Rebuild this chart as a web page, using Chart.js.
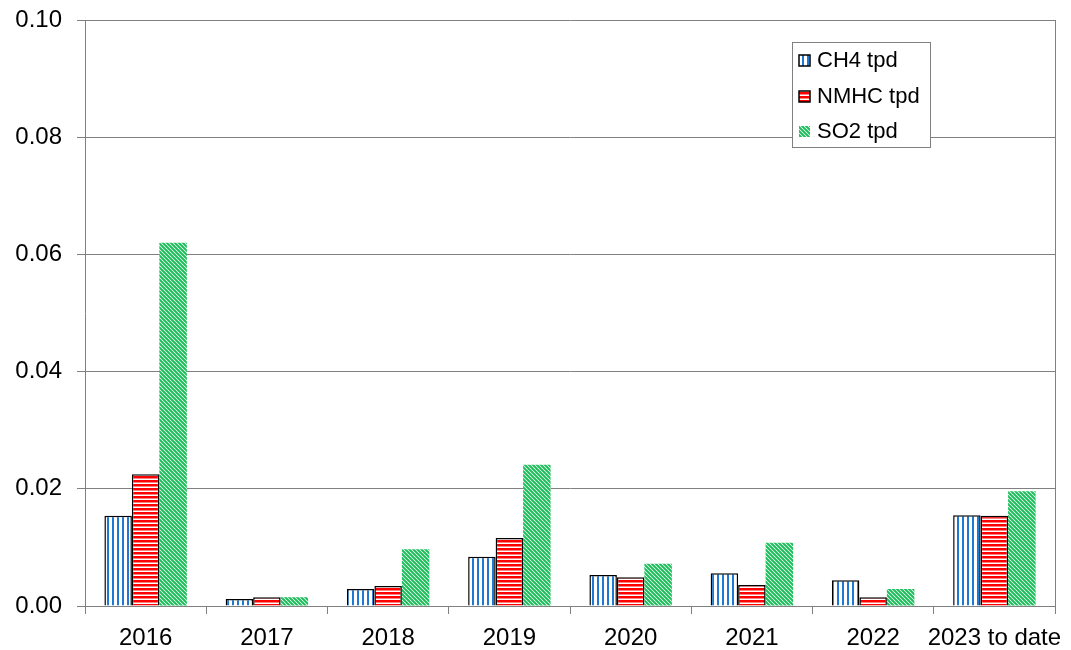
<!DOCTYPE html>
<html>
<head>
<meta charset="utf-8">
<script src="https://cdn.jsdelivr.net/npm/chart.js@4.4.0/dist/chart.umd.min.js"></script>
<style>
  html, body { margin: 0; padding: 0; background: #fff; }
</style>
</head>
<body>
<canvas id="chart" width="1071" height="650"></canvas>
<script>
// data
const years = ['2016', '2017', '2018', '2019', '2020', '2021', '2022', '2023 to date'];
const ch4Tpd  = [0.0154, 0.0012, 0.0029, 0.0084, 0.0053, 0.0056, 0.0044, 0.0155];
const nmhcTpd = [0.0225, 0.0015, 0.0034, 0.0116, 0.0049, 0.0036, 0.0015, 0.0154];
const so2Tpd  = [0.0620, 0.0015, 0.0097, 0.0241, 0.0072, 0.0108, 0.0029, 0.0196];
const yTicks  = [0, 0.02, 0.04, 0.06, 0.08, 0.10];

const FONT = 'Liberation Sans, Arial, sans-serif';

// fill patterns like the old excel hatches
function makePattern(w, h, draw) {
  const c = document.createElement('canvas');
  c.width = w; c.height = h;
  const g = c.getContext('2d');
  draw(g, w, h);
  return document.getElementById('chart').getContext('2d').createPattern(c, 'repeat');
}

const ch4Fill = makePattern(5, 5, (g, w, h) => {
  g.fillStyle = '#fff'; g.fillRect(0, 0, w, h);
  g.fillStyle = '#1f78d1'; g.fillRect(2, 0, 2, h);
});
const nmhcFill = makePattern(4, 4, (g, w, h) => {
  g.fillStyle = '#ff0000'; g.fillRect(0, 0, w, h);
  g.fillStyle = '#fff'; g.fillRect(0, 2.5, w, 1.5);
});
const so2Fill = makePattern(4, 4, (g, w, h) => {
  g.fillStyle = '#fff'; g.fillRect(0, 0, w, h);
  g.strokeStyle = '#1cbd5a'; g.lineWidth = 2;
  g.beginPath();
  g.moveTo(-1, -1); g.lineTo(w + 1, h + 1);
  g.moveTo(-1, h - 1); g.lineTo(1, h + 1);
  g.moveTo(w - 1, -1); g.lineTo(w + 1, 1);
  g.stroke();
});

// right border of plot + legend box inside the plot
const framePlugin = {
  id: 'frame',
  afterDraw(chart) {
    const ctx = chart.ctx;
    const a = chart.chartArea;
    ctx.save();
    ctx.strokeStyle = '#808080';
    ctx.lineWidth = 1;
    ctx.beginPath();
    ctx.moveTo(Math.round(a.right) + 0.5, a.top);
    ctx.lineTo(Math.round(a.right) + 0.5, a.bottom);
    ctx.stroke();

    // legend
    const bx = 792, by = 42, bw = 138, bh = 105;
    ctx.fillStyle = '#fff';
    ctx.fillRect(bx, by, bw, bh);
    ctx.strokeStyle = '#808080';
    ctx.strokeRect(bx + 0.5, by + 0.5, bw, bh);
    ctx.font = '22px ' + FONT;
    ctx.textBaseline = 'middle';
    const rows = [60, 96, 131];
    chart.data.datasets.forEach((ds, i) => {
      const cy = rows[i];
      ctx.fillStyle = ds.backgroundColor;
      ctx.fillRect(799, cy - 5, 11, 11);
      if (ds.borderWidth) {
        ctx.strokeStyle = '#000';
        ctx.lineWidth = 1.5;
        ctx.strokeRect(799, cy - 5, 11, 11);
      }
      ctx.fillStyle = '#000';
      ctx.fillText(ds.label, 817, cy + 1);
    });
    ctx.restore();
  }
};

new Chart(document.getElementById('chart'), {
  type: 'bar',
  data: {
    labels: years,
    datasets: [
      { label: 'CH4 tpd', data: ch4Tpd, backgroundColor: ch4Fill, borderColor: '#000', borderWidth: 1.5 },
      { label: 'NMHC tpd', data: nmhcTpd, backgroundColor: nmhcFill, borderColor: '#000', borderWidth: 1.5 },
      { label: 'SO2 tpd', data: so2Tpd, backgroundColor: so2Fill, borderWidth: 0 }
    ]
  },
  options: {
    responsive: false,
    animation: false,
    layout: { padding: { left: 0, right: 16, top: 20, bottom: 0 } },
    datasets: { bar: { categoryPercentage: 0.68, barPercentage: 1.0 } },
    plugins: {
      legend: { display: false },
      tooltip: { enabled: false }
    },
    scales: {
      x: {
        offset: true,
        grid: { display: true, drawOnChartArea: false, drawTicks: true, tickLength: 8, color: '#808080', offset: true },
        border: { display: true, color: '#808080' },
        ticks: { color: '#000', font: { family: FONT, size: 24 }, padding: 10, maxRotation: 0, autoSkip: false },
        afterFit(scale) { scale.height = 44; scale.paddingLeft = 0; scale.paddingRight = 0; }
      },
      y: {
        min: 0,
        max: 0.1,
        afterBuildTicks(scale) { scale.ticks = yTicks.map(v => ({ value: v })); },
        grid: { color: '#808080', lineWidth: 1, drawTicks: true, tickLength: 8 },
        border: { display: true, color: '#808080' },
        ticks: {
          color: '#000',
          font: { family: FONT, size: 24 },
          padding: 15,
          callback: v => v.toFixed(2)
        },
        afterFit(scale) { scale.width = 85; scale.paddingTop = 0; scale.paddingBottom = 0; }
      }
    }
  },
  plugins: [framePlugin]
});
</script>
</body>
</html>
